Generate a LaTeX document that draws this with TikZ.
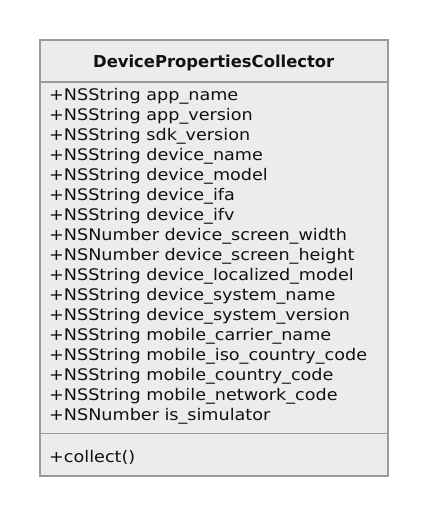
\documentclass[tikz,border=0pt]{standalone}
\usepackage{fontspec}
\setmainfont{DejaVu Sans}
\newfontfamily\attrfont[FakeStretch=1.1]{DejaVu Sans}
\definecolor{boxfill}{HTML}{ECECEC}
\definecolor{boxline}{HTML}{9A9A9A}
\definecolor{txt}{HTML}{111111}
\begin{document}
\begin{tikzpicture}[x=1pt,y=-1pt,
  attr/.style={anchor=west,inner sep=0pt,text=txt,font=\attrfont\fontsize{16}{18}\selectfont},
  title/.style={inner sep=0pt,text=txt,font=\fontsize{16.4}{18}\selectfont\bfseries},
  frame/.style={draw=boxline,line width=2pt,fill=boxfill}]
\useasboundingbox (0,0) rectangle (428,516);
\fill[white] (0,0) rectangle (428,516);
\draw[frame] (39.5,40.5) rectangle (388,475.5);
\draw[boxline,line width=1.5pt] (39.5,82) -- (388,82);
\draw[boxline,line width=1.5pt] (39.5,433.5) -- (388,433.5);
\node[title] (t) at (213.75,62.5) {DevicePropertiesCollector};
\foreach \i/\s in {0/{+NSString app\_name},1/{+NSString app\_version},2/{+NSString sdk\_version},3/{+NSString device\_name},4/{+NSString device\_model},5/{+NSString device\_ifa},6/{+NSString device\_ifv},7/{+NSNumber device\_screen\_width},8/{+NSNumber device\_screen\_height},9/{+NSString device\_localized\_model},10/{+NSString device\_system\_name},11/{+NSString device\_system\_version},12/{+NSString mobile\_carrier\_name},13/{+NSString mobile\_iso\_country\_code},14/{+NSString mobile\_country\_code},15/{+NSString mobile\_network\_code},16/{+NSNumber is\_simulator}}
  \node[attr] (a\i) at (49,96+20*\i) {\s};
\node[attr] (m) at (49,457) {+collect()};
\end{tikzpicture}
\end{document}
